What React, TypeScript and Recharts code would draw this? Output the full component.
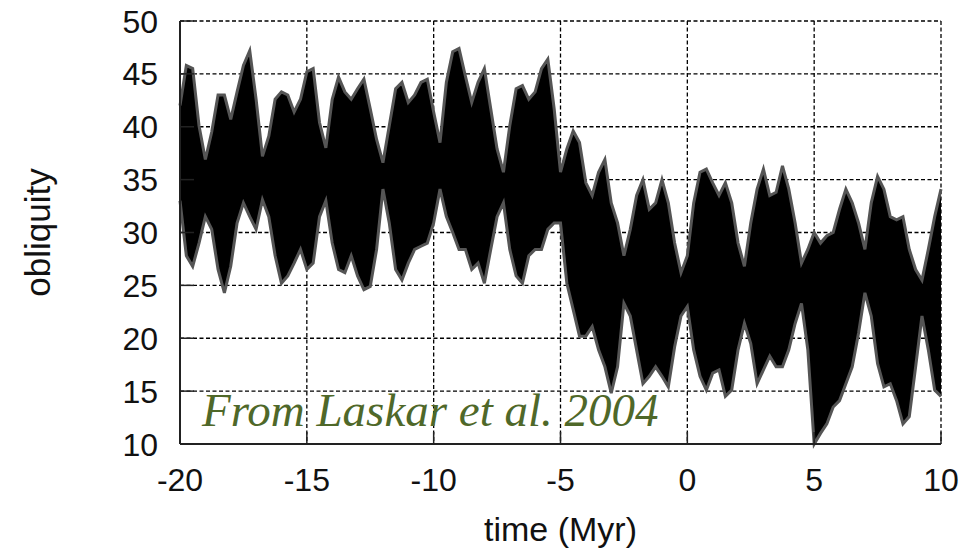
import { AreaChart, Area, XAxis, YAxis, CartesianGrid, Label } from "recharts";

// time in Myr, 0.25 Myr steps
const TIME = [
  -20, -19.75, -19.5, -19.25, -19, -18.75, -18.5, -18.25, -18, -17.75,
  -17.5, -17.25, -17, -16.75, -16.5, -16.25, -16, -15.75, -15.5, -15.25,
  -15, -14.75, -14.5, -14.25, -14, -13.75, -13.5, -13.25, -13, -12.75,
  -12.5, -12.25, -12, -11.75, -11.5, -11.25, -11, -10.75, -10.5, -10.25,
  -10, -9.75, -9.5, -9.25, -9, -8.75, -8.5, -8.25, -8, -7.75,
  -7.5, -7.25, -7, -6.75, -6.5, -6.25, -6, -5.75, -5.5, -5.25,
  -5, -4.75, -4.5, -4.25, -4, -3.75, -3.5, -3.25, -3, -2.75,
  -2.5, -2.25, -2, -1.75, -1.5, -1.25, -1, -0.75, -0.5, -0.25,
  0, 0.25, 0.5, 0.75, 1, 1.25, 1.5, 1.75, 2, 2.25,
  2.5, 2.75, 3, 3.25, 3.5, 3.75, 4, 4.25, 4.5, 4.75,
  5, 5.25, 5.5, 5.75, 6, 6.25, 6.5, 6.75, 7, 7.25,
  7.5, 7.75, 8, 8.25, 8.5, 8.75, 9, 9.25, 9.5, 9.75, 10,
];

// upper edge of the obliquity band (deg)
const OBLIQ_HIGH = [
  42, 45.8, 45.5, 40.1, 36.9, 39.5, 43, 43, 40.7, 43.3,
  45.8, 47.2, 42.6, 37.2, 39.1, 42.6, 43.3, 43, 41.4, 42.6,
  45.2, 45.5, 40.4, 38, 42.6, 44.7, 43.3, 42.6, 43.6, 44.5,
  41.7, 38.8, 36.6, 40.1, 43.6, 44.2, 42.3, 43, 44.2, 44.5,
  41.4, 38.5, 44.2, 47.1, 47.4, 44.8, 42.3, 44.2, 45.5, 41.7,
  37.9, 35.7, 40.1, 43.6, 43.9, 42.6, 43.3, 45.5, 46.4, 41.7,
  35.7, 37.9, 39.6, 38.5, 34.7, 33.5, 35.7, 36.9, 32.8, 30.9,
  27.8, 30.3, 33.5, 35, 32.2, 32.8, 35, 32.8, 29, 26.2,
  27.8, 32.8, 35.7, 36, 34.7, 33.5, 34.7, 32.8, 29, 26.8,
  30.9, 34.1, 36, 33.5, 33.8, 36.3, 34.1, 30.9, 27.1, 28.4,
  30, 29, 29.7, 30, 32.2, 34.1, 32.8, 30.9, 28.4, 32.8,
  35.3, 34.1, 31.5, 31.2, 31.5, 28.4, 26.5, 25.5, 28.4, 31.5, 34.1,
];

// lower edge of the obliquity band (deg)
const OBLIQ_LOW = [
  33, 27.8, 26.8, 29, 31.5, 30.3, 26.5, 24.3, 26.8, 30.9,
  32.8, 31.5, 30.3, 33.1, 31.5, 27.8, 25.2, 25.9, 27.1, 28.4,
  26.5, 27.1, 31.5, 33, 29, 26.5, 26.2, 27.8, 25.9, 24.6,
  24.9, 28.4, 34.1, 30.9, 26.5, 25.5, 27.1, 28.4, 28.7, 29,
  30.9, 34.1, 31.5, 30, 28.4, 28.4, 26.5, 27.1, 25.2, 28.4,
  31.5, 32.8, 28.4, 25.9, 25.2, 27.8, 28.4, 28.4, 30.3, 30.9,
  30.9, 25.2, 22.7, 20.2, 20.2, 21.1, 18.9, 17.3, 14.8, 17.3,
  23.3, 22.1, 18.9, 15.7, 16.4, 17.3, 16.4, 15.4, 19.2, 22.1,
  23, 18.9, 16.4, 15.1, 16.7, 17, 14.5, 15.1, 18.9, 21.4,
  19.5, 15.7, 17, 18.3, 17.3, 17.3, 18.9, 21.4, 23.3, 18.9,
  10, 11, 11.9, 13.5, 14.1, 15.7, 17.3, 20.5, 24.3, 22.1,
  17.6, 15.4, 15.7, 14.1, 11.9, 12.6, 17.3, 22.1, 18.9, 15.1, 14.5,
];

const X_TICKS = [-20, -15, -10, -5, 0, 5, 10];
const Y_TICKS = [10, 15, 20, 25, 30, 35, 40, 45, 50];

const data = TIME.map((t, i) => ({ time: t, range: [OBLIQ_LOW[i], OBLIQ_HIGH[i]] }));

const FONT = "'Liberation Sans', Arial, Helvetica, sans-serif";
const FRAME = { stroke: "#222", strokeWidth: 2 };

const BottomTick = (props: any) => {
  const { x, y, payload } = props;
  return (
    <g>
      <line x1={x} x2={x} y1={y} y2={y - 12} stroke="#222" strokeWidth={1.5} />
      <text x={x} y={y + 47} textAnchor="middle" fontSize={32} fontFamily={FONT} fill="#111">
        {payload.value}
      </text>
    </g>
  );
};

const TopTick = (props: any) => {
  const { x, y } = props;
  return <line x1={x} x2={x} y1={y} y2={y + 12} stroke="#222" strokeWidth={1.5} />;
};

const LeftTick = (props: any) => {
  const { x, y, payload } = props;
  return (
    <g>
      <line x1={x} x2={x + 14} y1={y} y2={y} stroke="#222" strokeWidth={1.5} />
      <text x={x - 22} y={y} dy="0.36em" textAnchor="end" fontSize={32} fontFamily={FONT} fill="#111">
        {payload.value}
      </text>
    </g>
  );
};

const RightTick = (props: any) => {
  const { x, y } = props;
  return <line x1={x} x2={x - 14} y1={y} y2={y} stroke="#222" strokeWidth={1.5} />;
};

export default function App() {
  return (
    <div style={{ position: "absolute", left: 0, top: 0, width: 980, height: 551, background: "#fff" }}>
      <AreaChart width={980} height={551} data={data} margin={{ top: 21, right: 39, bottom: 7, left: 0 }}>
        <CartesianGrid stroke="#000" strokeWidth={1.3} strokeDasharray="4 2.5" />
        <XAxis
          dataKey="time"
          type="number"
          domain={[-20, 10]}
          ticks={X_TICKS}
          height={100}
          tickSize={0}
          tickMargin={0}
          tickLine={false}
          axisLine={FRAME}
          tick={BottomTick}
        >
          <Label
            value="time (Myr)"
            position="insideBottom"
            offset={3}
            style={{ fontSize: 34, fontFamily: FONT, fill: "#111" }}
          />
        </XAxis>
        <XAxis
          xAxisId="top"
          orientation="top"
          type="number"
          domain={[-20, 10]}
          ticks={X_TICKS}
          height={0}
          tickSize={0}
          tickMargin={0}
          tickLine={false}
          axisLine={FRAME}
          tick={TopTick}
        />
        <YAxis
          type="number"
          domain={[10, 50]}
          ticks={Y_TICKS}
          width={180}
          tickSize={0}
          tickMargin={0}
          tickLine={false}
          axisLine={FRAME}
          tick={LeftTick}
        >
          <Label
            value="obliquity"
            angle={-90}
            position="insideLeft"
            offset={38}
            style={{ fontSize: 35, fontFamily: FONT, fill: "#111", textAnchor: "middle" }}
          />
        </YAxis>
        <YAxis
          yAxisId="right"
          orientation="right"
          type="number"
          domain={[10, 50]}
          ticks={Y_TICKS}
          width={0}
          tickSize={0}
          tickMargin={0}
          tickLine={false}
          axisLine={FRAME}
          tick={RightTick}
        />
        <Area
          type="linear"
          dataKey="range"
          stroke="#555"
          strokeWidth={3}
          fill="#000"
          fillOpacity={1}
          isAnimationActive={false}
        />
      </AreaChart>
      <div
        style={{
          position: "absolute",
          left: 202,
          top: 387,
          fontFamily: "'Liberation Serif', 'Times New Roman', serif",
          fontStyle: "italic",
          fontSize: 47,
          lineHeight: "47px",
          color: "#4f6829",
          whiteSpace: "nowrap",
        }}
      >
        From Laskar et al. 2004
      </div>
    </div>
  );
}
